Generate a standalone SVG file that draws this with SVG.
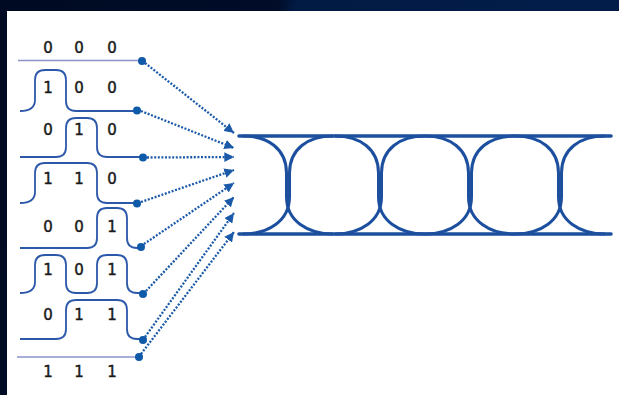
<svg xmlns="http://www.w3.org/2000/svg" width="619" height="395" viewBox="0 0 619 395">
<defs>
<linearGradient id="bg" x1="0" y1="0" x2="1" y2="0.15">
<stop offset="0" stop-color="#000a22"/>
<stop offset="0.44" stop-color="#000c28"/>
<stop offset="0.47" stop-color="#011b44"/>
<stop offset="1" stop-color="#021d4a"/>
</linearGradient>
<marker id="ah" viewBox="0 0 10 10" refX="10" refY="5" markerWidth="4.2" markerHeight="4.2" orient="auto" markerUnits="strokeWidth">
<path d="M0,0 L10,5 L0,10 z" fill="#1b5aa8"/>
</marker>
<style>
.digit{font-family:"DejaVu Sans",sans-serif;font-size:15px;fill:#1a1a1a;stroke:#1a1a1a;stroke-width:0.45;text-anchor:middle}
.wave{fill:none;stroke:#2c58aa;stroke-width:1.8}
.flat{fill:none;stroke:#8b92c9;stroke-width:1.5}
.dot{fill:#0f5aa8}
.conn{fill:none;stroke:#1b5aa8;stroke-width:2.3;stroke-dasharray:2 1.6}
.eye{fill:none;stroke:#1d4f9f;stroke-width:3}
.rail{fill:none;stroke:#1d4f9f;stroke-width:3.6;stroke-linecap:round}
</style>
</defs>
<rect x="0" y="0" width="619" height="395" fill="url(#bg)"/>
<rect x="7" y="11" width="612" height="384" fill="#ffffff"/>

<g id="wave-000">
<path class="flat" d="M18 60.5 H142"/>
<text class="digit" x="48" y="53">0</text><text class="digit" x="79" y="53">0</text><text class="digit" x="112" y="53">0</text>
<circle class="dot" cx="142" cy="61" r="4"/>
</g>
<g id="wave-100">
<path class="wave" d="M20 111 Q35 111 35 100 V80 Q35 70 45 70 H56 Q66 70 66 80 V101 Q66 111 76 111 H137"/>
<text class="digit" x="48" y="93">1</text><text class="digit" x="79" y="93">0</text><text class="digit" x="112" y="93">0</text>
<circle class="dot" cx="137" cy="110.5" r="4"/>
</g>
<g id="wave-010">
<path class="wave" d="M20 157 H56 Q66 157 66 147 V128 Q66 118 76 118 H87 Q97 118 97 128 V147 Q97 157 107 157 H143"/>
<text class="digit" x="48" y="135">0</text><text class="digit" x="79" y="135">1</text><text class="digit" x="112" y="135">0</text>
<circle class="dot" cx="143" cy="157.5" r="4"/>
</g>
<g id="wave-110">
<path class="wave" d="M20 203 Q35 203 35 192 V173 Q35 163 45 163 H87 Q97 163 97 173 V193 Q97 203 107 203 H137"/>
<text class="digit" x="48" y="184">1</text><text class="digit" x="79" y="184">1</text><text class="digit" x="112" y="184">0</text>
<circle class="dot" cx="137" cy="203.5" r="4"/>
</g>
<g id="wave-001">
<path class="wave" d="M20 248 H87 Q97 248 97 238 V218 Q97 208 107 208 H117 Q127 208 127 218 V238 Q127 248 137 248 H141"/>
<text class="digit" x="48" y="232">0</text><text class="digit" x="79" y="232">0</text><text class="digit" x="112" y="232">1</text>
<circle class="dot" cx="141" cy="247" r="4"/>
</g>
<g id="wave-101">
<path class="wave" d="M20 293 Q35 293 35 282 V265 Q35 255 45 255 H56 Q66 255 66 265 V283 Q66 293 76 293 H87 Q97 293 97 283 V265 Q97 255 107 255 H117 Q127 255 127 265 V283 Q127 293 137 293 H143"/>
<text class="digit" x="48" y="275">1</text><text class="digit" x="79" y="275">0</text><text class="digit" x="112" y="275">1</text>
<circle class="dot" cx="143" cy="294" r="4"/>
</g>
<g id="wave-011">
<path class="wave" d="M20 339 H56 Q66 339 66 329 V310 Q66 300 76 300 H117 Q127 300 127 310 V329 Q127 339 137 339 H143"/>
<text class="digit" x="48" y="320">0</text><text class="digit" x="79" y="320">1</text><text class="digit" x="112" y="320">1</text>
<circle class="dot" cx="143" cy="340" r="4"/>
</g>
<g id="wave-111">
<path class="flat" d="M17 357 H139"/>
<text class="digit" x="48" y="377">1</text><text class="digit" x="79" y="377">1</text><text class="digit" x="112" y="377">1</text>
<circle class="dot" cx="139" cy="357" r="4"/>
</g>

<g id="connectors">
<line class="conn" x1="145" y1="63" x2="234" y2="133" marker-end="url(#ah)"/>
<line class="conn" x1="141" y1="111" x2="234" y2="148" marker-end="url(#ah)"/>
<line class="conn" x1="147" y1="157.5" x2="234" y2="157" marker-end="url(#ah)"/>
<line class="conn" x1="141" y1="202" x2="234" y2="170" marker-end="url(#ah)"/>
<line class="conn" x1="144" y1="244" x2="234" y2="183" marker-end="url(#ah)"/>
<line class="conn" x1="146" y1="291" x2="234" y2="197" marker-end="url(#ah)"/>
<line class="conn" x1="145" y1="337" x2="234" y2="213" marker-end="url(#ah)"/>
<line class="conn" x1="141" y1="354" x2="234" y2="232" marker-end="url(#ah)"/>
</g>

<g id="eye-diagram">
<path class="rail" d="M239 136 H611"/>
<path class="rail" d="M239 234 H611"/>
<g id="crossings">
<path class="eye" d="M243 136 C268 136 286.5 149 286.5 173 L286.5 197 C286.5 221 308 234 333 234"/>
<path class="eye" d="M243 234 C268 234 289.5 221 289.5 197 L289.5 173 C289.5 149 308 136 333 136"/>
<path class="eye" d="M335 136 C360 136 378.5 149 378.5 173 L378.5 197 C378.5 221 400 234 425 234"/>
<path class="eye" d="M335 234 C360 234 381.5 221 381.5 197 L381.5 173 C381.5 149 400 136 425 136"/>
<path class="eye" d="M425 136 C450 136 468.5 149 468.5 173 L468.5 197 C468.5 221 490 234 515 234"/>
<path class="eye" d="M425 234 C450 234 471.5 221 471.5 197 L471.5 173 C471.5 149 490 136 515 136"/>
<path class="eye" d="M515 136 C540 136 558.5 149 558.5 173 L558.5 197 C558.5 221 580 234 605 234"/>
<path class="eye" d="M515 234 C540 234 561.5 221 561.5 197 L561.5 173 C561.5 149 580 136 605 136"/>
</g>
</g>
</svg>
